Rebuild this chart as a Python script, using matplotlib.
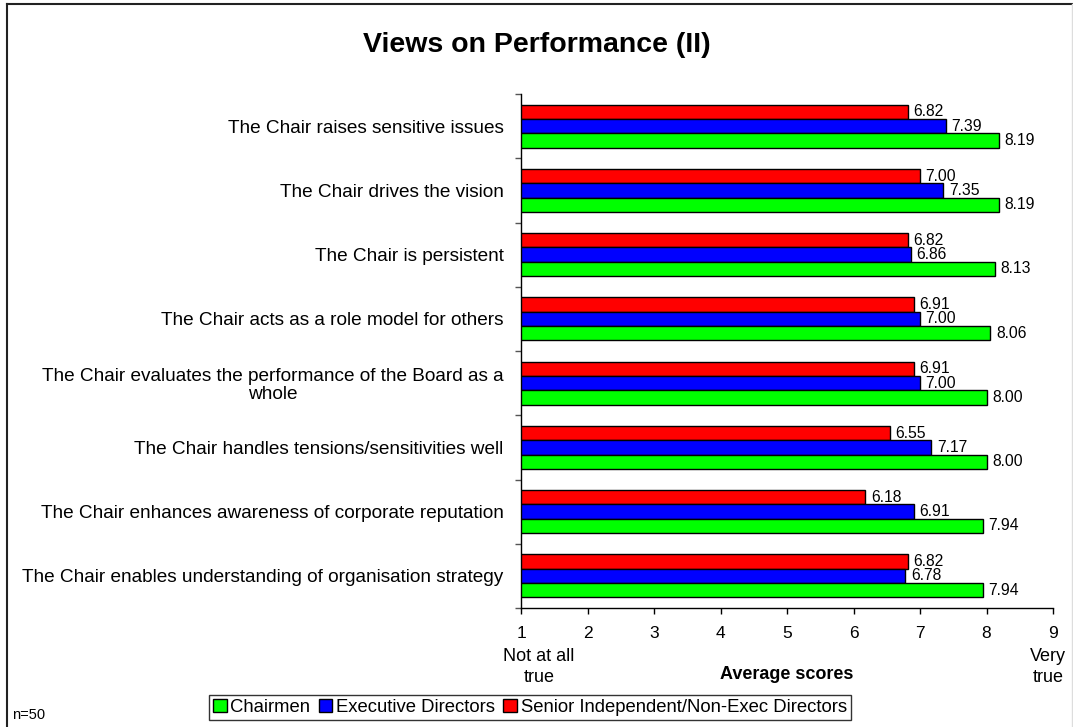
import matplotlib
matplotlib.use("Agg")
import matplotlib.pyplot as plt
from matplotlib.patches import Patch
from matplotlib.lines import Line2D
import numpy as np

plt.rcParams['font.family'] = ['Liberation Sans', 'DejaVu Sans']

categories = [
    "The Chair raises sensitive issues",
    "The Chair drives the vision",
    "The Chair is persistent",
    "The Chair acts as a role model for others",
    "The Chair evaluates the performance of the Board as a\nwhole",
    "The Chair handles tensions/sensitivities well",
    "The Chair enhances awareness of corporate reputation",
    "The Chair enables understanding of organisation strategy",
]
senior = [6.82, 7.00, 6.82, 6.91, 6.91, 6.55, 6.18, 6.82]
executive = [7.39, 7.35, 6.86, 7.00, 7.00, 7.17, 6.91, 6.78]
chairmen = [8.19, 8.19, 8.13, 8.06, 8.00, 8.00, 7.94, 7.94]
series_names = ["Chairmen", "Executive Directors", "Senior Independent/Non-Exec Directors"]
xticks = [1, 2, 3, 4, 5, 6, 7, 8, 9]

W, H = 1073, 727
fig = plt.figure(figsize=(W / 100, H / 100), dpi=100)
ax = fig.add_axes([521 / W, 1 - 608 / H, (1053 - 521) / W, (608 - 94) / H])

y = np.arange(len(categories))
h = 0.222
colors = {"Chairmen": "#00ff00", "Executive Directors": "#0000ff",
          "Senior Independent/Non-Exec Directors": "#ff0000"}

for vals, off, name in [(senior, -h, series_names[2]), (executive, 0, series_names[1]),
                        (chairmen, h, series_names[0])]:
    bars = ax.barh(y + off, vals, height=h, color=colors[name], edgecolor='black',
                   linewidth=1.0)
    for b, v in zip(bars, vals):
        ax.annotate(f"{v:.2f}", (v, b.get_y() + b.get_height() / 2),
                    xytext=(4, 0), textcoords='offset points', va='center', ha='left',
                    fontsize=11.3)

ax.set_xlim(1, 9)
ax.set_ylim(len(categories) - 0.5, -0.5)
ax.set_xticks(xticks)
ax.set_xticklabels([str(t) for t in xticks], fontsize=12.5)
ax.tick_params(axis='x', length=4, width=1, pad=9, direction='out')
ax.set_yticks(y)
ax.set_yticklabels(categories, fontsize=13.7)
ax.tick_params(axis='y', which='major', length=0, pad=12.5)
ax.set_yticks(np.arange(-0.5, len(categories) + 0.5, 1), minor=True)
ax.tick_params(axis='y', which='minor', length=4, width=1, color='#555555')
for lbl in ax.get_yticklabels():
    lbl.set_multialignment('center')
    lbl.set_linespacing(1.05)

for s in ['top', 'right']:
    ax.spines[s].set_visible(False)
ax.spines['left'].set_linewidth(1)
ax.spines['bottom'].set_linewidth(1)

ax.text(1.27, -0.078, "Not at all\ntrue", transform=ax.get_xaxis_transform(),
        ha='center', va='top', fontsize=13, linespacing=1.3)
ax.text(8.93, -0.078, "Very\ntrue", transform=ax.get_xaxis_transform(),
        ha='center', va='top', fontsize=13, linespacing=1.3)
ax.text(5, -0.112, "Average scores", transform=ax.get_xaxis_transform(),
        ha='center', va='top', fontsize=13, fontweight='bold')

fig.text(0.5, 1 - 45 / H, "Views on Performance (II)", ha='center', va='center',
         fontsize=20.5, fontweight='bold')
fig.text(12 / W, 1 - 715 / H, "n=50", ha='left', va='center', fontsize=10.5)

handles = [Patch(facecolor=colors[n], edgecolor='black', label=n) for n in series_names]
leg = fig.legend(handles=handles, loc='upper left', bbox_to_anchor=(209 / W, 1 - 695 / H),
                 ncol=3, frameon=True, fontsize=13.3, handlelength=0.75, handleheight=0.75,
                 handletextpad=0.2, columnspacing=0.45, borderpad=0.2, borderaxespad=0,
                 fancybox=False)
leg.get_frame().set_edgecolor('black')
leg.get_frame().set_linewidth(1)

fig.add_artist(Line2D([7 / W, 1072 / W], [1 - 4 / H, 1 - 4 / H], color='#222222', lw=1.5,
                      transform=fig.transFigure))
fig.add_artist(Line2D([7 / W, 7 / W], [0, 1 - 4 / H], color='#222222', lw=1.5,
                      transform=fig.transFigure))
fig.add_artist(Line2D([1072 / W, 1072 / W], [0, 1 - 4 / H], color='#dddddd', lw=1,
                      transform=fig.transFigure))

fig.savefig("out.png", dpi=100)
